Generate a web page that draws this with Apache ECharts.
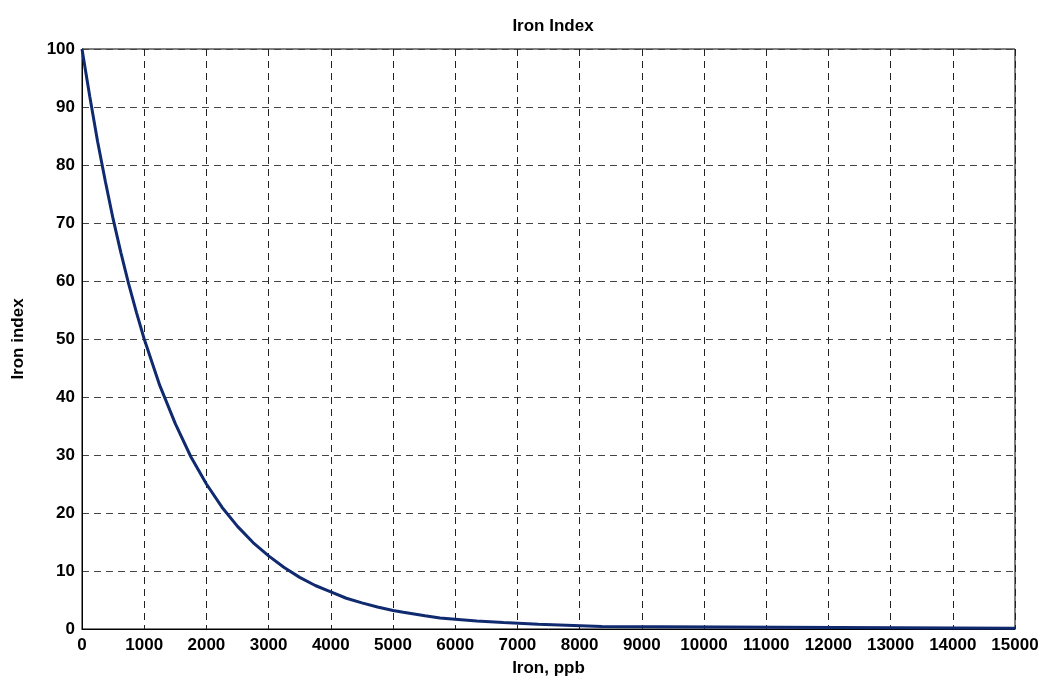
<!DOCTYPE html>
<html>
<head>
<meta charset="utf-8">
<script src="https://cdn.jsdelivr.net/npm/echarts@6/dist/echarts.min.js"></script>
<style>html,body{margin:0;padding:0;background:#fff;}#c{width:1044px;height:685px;}</style>
</head>
<body>
<div id="c"></div>
<script>
const titleText = 'Iron Index';
const xName = 'Iron, ppb';
const yName = 'Iron index';
// Iron concentration (ppb) and index values
const ironPpb = [0, 125, 250, 375, 500, 625, 750, 875, 1000, 1250, 1500, 1750, 2000, 2250, 2500, 2750, 3000, 3250, 3500, 3750, 4000, 4250, 4500, 4750, 5000, 5166, 5166, 5514, 5514, 5756, 5756, 5997, 5997, 6345, 6345, 6774, 6774, 7336, 7336, 8355, 8355, 15000];
const ironIndex = [100, 91.8, 84.1, 77.2, 70.7, 64.9, 59.5, 54.6, 50, 42, 35.4, 29.7, 25, 21, 17.7, 14.9, 12.6, 10.6, 8.9, 7.5, 6.4, 5.3, 4.5, 3.8, 3.2, 2.9, 2.6, 2.3, 2.1, 1.9, 1.8, 1.7, 1.6, 1.4, 1.3, 1.1, 0.95, 0.8, 0.55, 0.45, 0.15, 0.15];

const pts = ironPpb.map((x, i) => [x, ironIndex[i]]);
const font = 'Liberation Sans, Arial, sans-serif';
const chart = echarts.init(document.getElementById('c'));
chart.setOption({
  animation: false,
  backgroundColor: '#fff',
  title: {
    text: titleText, left: 548, top: 13, textAlign: 'center',
    textStyle: {fontFamily: font, fontWeight: 'bold', fontSize: 17, color: '#000'}
  },
  grid: {left: 82, right: 29, top: 49, bottom: 56, show: true, borderColor: '#000', borderWidth: 1, backgroundColor: 'transparent'},
  xAxis: {
    type: 'value', min: 0, max: 15000, interval: 1000,
    name: xName, nameLocation: 'middle', nameGap: 31,
    nameTextStyle: {fontFamily: font, fontWeight: 'bold', fontSize: 17, color: '#000'},
    axisLine: {show: true, lineStyle: {color: '#000', width: 1}},
    axisTick: {show: false},
    axisLabel: {fontFamily: font, fontWeight: 'bold', fontSize: 17, color: '#000', margin: 8, formatter: v => String(v)},
    splitLine: {show: true, lineStyle: {color: '#222', type: [7, 5], width: 1}}
  },
  yAxis: {
    type: 'value', min: 0, max: 100, interval: 10,
    name: yName, nameLocation: 'middle', nameGap: 55, nameRotate: 90,
    nameTextStyle: {fontFamily: font, fontWeight: 'bold', fontSize: 17, color: '#000'},
    axisLine: {show: true, lineStyle: {color: '#000', width: 1}},
    axisTick: {show: false},
    axisLabel: {fontFamily: font, fontWeight: 'bold', fontSize: 17, color: '#000', margin: 7, formatter: v => String(v)},
    splitLine: {show: true, lineStyle: {color: '#444', type: [7, 5], width: 1}}
  },
  series: [{
    type: 'line', data: pts, showSymbol: false, smooth: false,
    lineStyle: {color: '#102a70', width: 3}
  }]
});
</script>
</body>
</html>
